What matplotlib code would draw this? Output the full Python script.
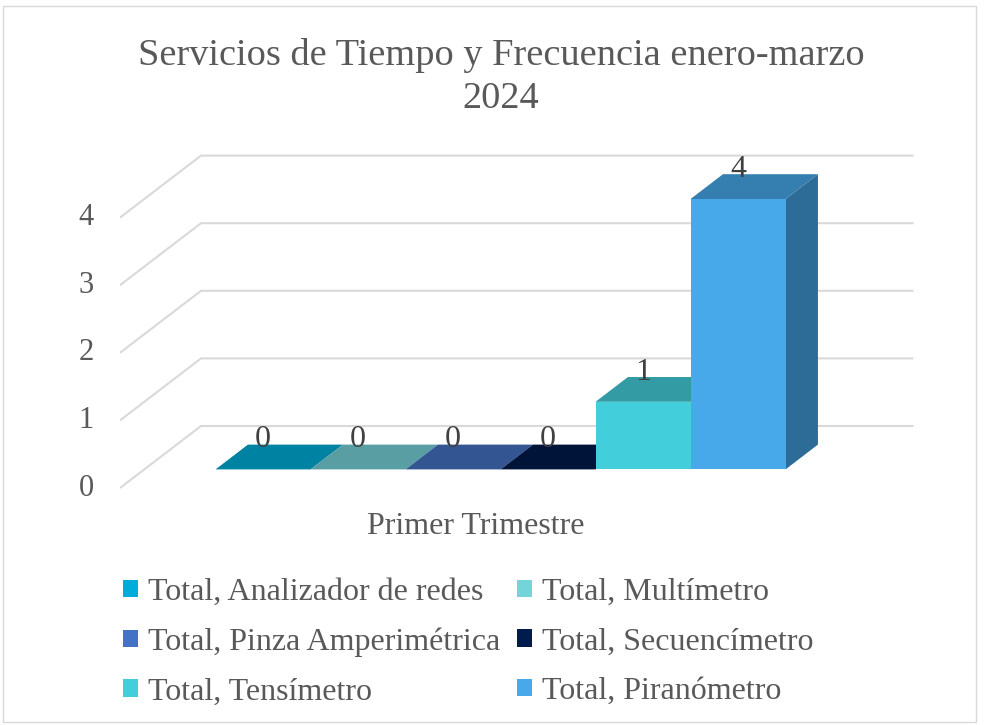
import matplotlib
matplotlib.use('Agg')
import matplotlib.pyplot as plt
from matplotlib.patches import Polygon, Patch, Rectangle
import numpy as np

# data
series = ['Total, Analizador de redes', 'Total, Multímetro',
          'Total, Pinza Amperimétrica', 'Total, Secuencímetro',
          'Total, Tensímetro', 'Total, Piranómetro']
values = [0, 0, 0, 0, 1, 4]
category = 'Primer Trimestre'
yticks = [0, 1, 2, 3, 4]
title = 'Servicios de Tiempo y Frecuencia enero-marzo\n2024'

colors = ['#00ADDA', '#75D3DA', '#4472C4', '#001B4D', '#42CFDB', '#47A9EA']
text_color = '#595959'
grid_color = '#D9D9D9'
font = 'Liberation Serif'

W, H = 984, 725
fig = plt.figure(figsize=(W / 100, H / 100), dpi=100)
fig.patch.set_facecolor('white')

# axes placed in pixel terms (x unit = one bar width, y unit = one value step)
px_x, px_y = 95.0, 67.6
left_px, right_px, top_px, bot_px = 120, 930, 140, 500
zero_px = 488
ax = fig.add_axes([left_px / W, 1 - bot_px / H, (right_px - left_px) / W, (bot_px - top_px) / H])
ax.set_xlim(0, (right_px - left_px) / px_x)
ax.set_ylim(-(bot_px - zero_px) / px_y, (zero_px - top_px) / px_y)
ax.axis('off')

# depth offsets of the pseudo-3D box (back wall vs front edge)
DX = 81 / px_x
DY = 62 / px_y
floor_w = 7.5
pad = 0.75
z0, z1 = 0.3, 0.7  # bar depth range

# gridlines: diagonal side + back wall
for v in yticks:
    ax.plot([0, DX, floor_w + DX], [v, v + DY, v + DY], color=grid_color, lw=1.5,
            zorder=1, solid_capstyle='butt')
    ax.text(-26 / px_x, v, str(v), ha='right', va='center', fontsize=22,
            family=font, color=text_color, clip_on=False)


def shade(c, f):
    r, g, b = matplotlib.colors.to_rgb(c)
    return (r * f, g * f, b * f)


ox, oy = z0 * DX, z0 * DY
dx, dy = (z1 - z0) * DX, (z1 - z0) * DY
for i, (v, c) in enumerate(zip(values, colors)):
    xl = pad + i + ox
    zo = 3 + i
    # side face
    if v > 0:
        ax.add_patch(Polygon([(xl + 1, oy), (xl + 1 + dx, oy + dy), (xl + 1 + dx, oy + dy + v),
                              (xl + 1, oy + v)], closed=True, fc=shade(c, 0.64), ec='none', zorder=zo))
    # front face
    ax.bar(xl, v, width=1, bottom=oy, align='edge', color=c, zorder=zo + 0.1, linewidth=0)
    # top face
    ax.add_patch(Polygon([(xl, oy + v), (xl + 1, oy + v), (xl + 1 + dx, oy + v + dy),
                          (xl + dx, oy + v + dy)], closed=True, fc=shade(c, 0.75), ec='none',
                         zorder=zo + 0.2))
    ax.text(xl + 0.5, oy + v + dy + 0.07, str(v), ha='center', va='center', fontsize=23,
            family=font, color='#404040', zorder=20)

# category label
fig.text(476 / W, 1 - 527 / H, category, ha='center', va='center', fontsize=23,
         family=font, color=text_color)

# title
fig.text(501 / W, 1 - 77 / H, title, ha='center', va='center', fontsize=27.6,
         family=font, color=text_color, linespacing=1.35)

# legend, row-wise order
order = [0, 2, 4, 1, 3, 5]
handles = [Patch(facecolor=colors[k], edgecolor='none', label=series[k]) for k in order]
leg = fig.legend(handles=handles, ncol=2, loc='upper left', bbox_to_anchor=(123 / W, 1 - 578 / H),
                 frameon=False, prop={'family': font, 'size': 23}, handlelength=0.47,
                 handleheight=0.47, handletextpad=0.3, columnspacing=0.55, labelspacing=0.64,
                 borderaxespad=0, borderpad=0)
for t in leg.get_texts():
    t.set_color(text_color)

# outer frame
fig.add_artist(Rectangle((3 / W, 3 / H), (976 - 3) / W, (719 - 3) / H, transform=fig.transFigure,
                         fill=False, ec='#D9D9D9', lw=1))

fig.savefig('out.png', dpi=100, facecolor='white')
